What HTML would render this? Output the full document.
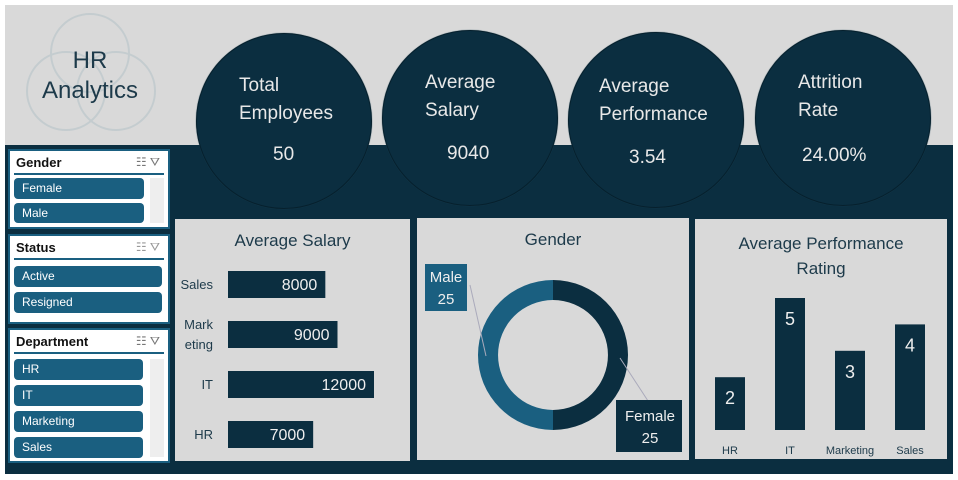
<!DOCTYPE html>
<html><head><meta charset="utf-8"><style>
body{margin:0;width:958px;height:480px;background:#fff;font-family:"Liberation Sans",sans-serif;overflow:hidden;position:relative}
.abs{position:absolute}
.kpi{position:absolute;width:176px;height:176px;border-radius:50%;background:#0b2e40;color:#e8e8e8;box-sizing:border-box;border:1.5px solid #06202d;box-shadow:0 0 1px #1f4556}
.kpi .t{position:absolute;left:42px;font-size:19px;line-height:28px}
.kpi .v{position:absolute;font-size:19px}
.slicer{position:absolute;left:8px;width:162px;background:#fff;box-sizing:border-box;border:2px solid #1a5f80}
.slicer .h{position:absolute;left:6px;top:4px;font-weight:bold;font-size:13px;color:#111}
.slicer .line{position:absolute;left:4px;right:4px;top:22px;height:2px;background:#1a5f80}
.item{position:absolute;left:4px;height:21px;background:#1a5f80;color:#fff;font-size:12px;line-height:21px;padding-left:8px;box-sizing:border-box;border-radius:4px}
.panel{position:absolute;background:#d9d9d9}
.ptitle{position:absolute;left:0;right:0;text-align:center;color:#1d3a4a;font-size:17px}
</style></head><body>
<div class="abs" style="left:5px;top:5px;width:948px;height:141px;background:#d9d9d9"></div>
<div class="abs" style="left:5px;top:145px;width:948px;height:329px;background:#0b2e40"></div>
<svg class="abs" style="left:20px;top:10px" width="150" height="130">
<circle cx="70" cy="43" r="39" fill="none" stroke="#c4cccf" stroke-width="2"/>
<circle cx="46" cy="81" r="39" fill="none" stroke="#c4cccf" stroke-width="2"/>
<circle cx="96" cy="81" r="39" fill="none" stroke="#c4cccf" stroke-width="2"/>
</svg>
<div class="abs" style="left:30px;top:46px;width:120px;text-align:center;font-size:24px;line-height:30px;color:#1d3a4a">HR<br>Analytics</div>

<div class="kpi" style="left:196px;top:33px"><div class="t" style="top:38px">Total<br>Employees</div><div class="v" style="left:76px;top:110px">50</div></div>
<div class="kpi" style="left:382px;top:30px"><div class="t" style="top:38px">Average<br>Salary</div><div class="v" style="left:64px;top:112px">9040</div></div>
<div class="kpi" style="left:568px;top:32px"><div class="t" style="left:30px;top:40px">Average<br>Performance</div><div class="v" style="left:60px;top:114px">3.54</div></div>
<div class="kpi" style="left:755px;top:30px"><div class="t" style="top:38px">Attrition<br>Rate</div><div class="v" style="left:46px;top:114px">24.00%</div></div>

<div class="slicer" style="top:149px;height:80px">
<div class="h">Gender</div><div class="line"></div>
<div class="abs" style="right:8px;top:4px;font-size:12px;color:#777">☷ ⛛</div>
<div class="item" style="top:27px;width:130px">Female</div>
<div class="item" style="top:52px;width:130px;height:20px">Male</div>
<div class="abs" style="right:4px;top:27px;width:14px;height:45px;background:#eee"></div>
</div>
<div class="slicer" style="top:234px;height:90px">
<div class="h">Status</div><div class="line"></div>
<div class="abs" style="right:8px;top:4px;font-size:12px;color:#999">☷ ⛛</div>
<div class="item" style="top:30px;width:148px">Active</div>
<div class="item" style="top:56px;width:148px">Resigned</div>
</div>
<div class="slicer" style="top:328px;height:135px">
<div class="h">Department</div><div class="line"></div>
<div class="abs" style="right:8px;top:4px;font-size:12px;color:#777">☷ ⛛</div>
<div class="item" style="top:29px;width:129px">HR</div>
<div class="item" style="top:55px;width:129px">IT</div>
<div class="item" style="top:81px;width:129px">Marketing</div>
<div class="item" style="top:107px;width:129px">Sales</div>
<div class="abs" style="right:4px;top:29px;width:14px;height:98px;background:#eee"></div>
</div>

<div class="panel" style="left:175px;top:219px;width:235px;height:242px"><div class="ptitle" style="top:12px">Average Salary</div></div>
<div class="panel" style="left:417px;top:218px;width:272px;height:242px"><div class="ptitle" style="top:12px">Gender</div></div>
<div class="panel" style="left:695px;top:219px;width:252px;height:240px"><div class="ptitle" style="top:12px;line-height:25px">Average Performance<br>Rating</div></div>

<svg class="abs" id="charts" style="left:0;top:0" width="958" height="480"></svg>
<script>
const salaryCats=["Sales","Marketing","IT","HR"];
const salaryLabels=[["Sales"],["Mark","eting"],["IT"],["HR"]];
const salaryVals=[8000,9000,12000,7000];
const genderCats=["Male","Female"];
const genderVals=[25,25];
const perfCats=["HR","IT","Marketing","Sales"];
const perfVals=[2,5,3,4];

const svg=document.getElementById('charts');
const NS="http://www.w3.org/2000/svg";
function mk(t,a){const e=document.createElementNS(NS,t);for(const k in a)e.setAttribute(k,a[k]);svg.appendChild(e);return e;}
const sx=v=>v*(146/12000);
const sy=i=>284+i*50;
salaryVals.forEach((v,i)=>{
 const r=mk('rect',{x:228,y:sy(i)-13,width:sx(v),height:27,fill:'#0b2e40'});
 
 
 const t=mk('text',{x:228+sx(v)-8,y:sy(i)+6,'text-anchor':'end','font-size':16,fill:'#eee','font-family':'Liberation Sans'});t.textContent=v;
 
 
 const L=salaryLabels[i];
 L.forEach((s,j)=>{const c=mk('text',{x:213,y:sy(i)+5+(j-(L.length-1)/2)*20,'text-anchor':'end','font-size':13,fill:'#1d3a4a','font-family':'Liberation Sans'});c.textContent=s;
 
 });
});
const cx=553,cy=355,R=75,r0=55;
const tot=genderVals.reduce((a,b)=>a+b,0);
const cols=['#1a5f80','#0b2e40'];
const fem=genderVals[1]/tot*2*Math.PI;
function arc(a0,a1,col,name){
 const p=(a,rr)=>[cx+rr*Math.sin(a),cy-rr*Math.cos(a)];
 const large=(a1-a0)>Math.PI?1:0;
 const [x0,y0]=p(a0,R),[x1,y1]=p(a1,R),[x2,y2]=p(a1,r0),[x3,y3]=p(a0,r0);
 const e=mk('path',{d:`M${x0},${y0}A${R},${R} 0 ${large} 1 ${x1},${y1}L${x2},${y2}A${r0},${r0} 0 ${large} 0 ${x3},${y3}Z`,fill:col});
 
 
}
arc(0,Math.min(fem,2*Math.PI-0.0001),cols[1],'donut-slice-female');
if(genderVals[0]>0)arc(fem,2*Math.PI-0.0001,cols[0],'donut-slice-male');
mk('line',{x1:470,y1:285,x2:486,y2:356,stroke:'#aab',"stroke-width":1});
mk('line',{x1:620,y1:358,x2:650,y2:404,stroke:'#aab',"stroke-width":1});
const ml=mk('rect',{x:425,y:264,width:42,height:47,fill:'#1a5f80'});


[genderCats[0],genderVals[0]].forEach((s,j)=>{const t=mk('text',{x:446,y:282+j*22,'text-anchor':'middle','font-size':15,fill:'#eee','font-family':'Liberation Sans'});t.textContent=s;});
const fl=mk('rect',{x:616,y:400,width:66,height:52,fill:'#0b2e40'});


[genderCats[1],genderVals[1]].forEach((s,j)=>{const t=mk('text',{x:650,y:421+j*22,'text-anchor':'middle','font-size':15,fill:'#eee','font-family':'Liberation Sans'});t.textContent=s;});
const base=430, py=v=>v*26.4;
const px=i=>730+i*60;
perfVals.forEach((v,i)=>{
 const r=mk('rect',{x:px(i)-15,y:base-py(v),width:30,height:py(v),fill:'#0b2e40'});
 
 
 const t=mk('text',{x:px(i),y:base-py(v)+27,'text-anchor':'middle','font-size':18,fill:'#eee','font-family':'Liberation Sans'});t.textContent=v;
 
 
 const c=mk('text',{x:px(i),y:454,'text-anchor':'middle','font-size':11,fill:'#1d3a4a','font-family':'Liberation Sans'});c.textContent=perfCats[i];
 
 
});
</script>
</body></html>
